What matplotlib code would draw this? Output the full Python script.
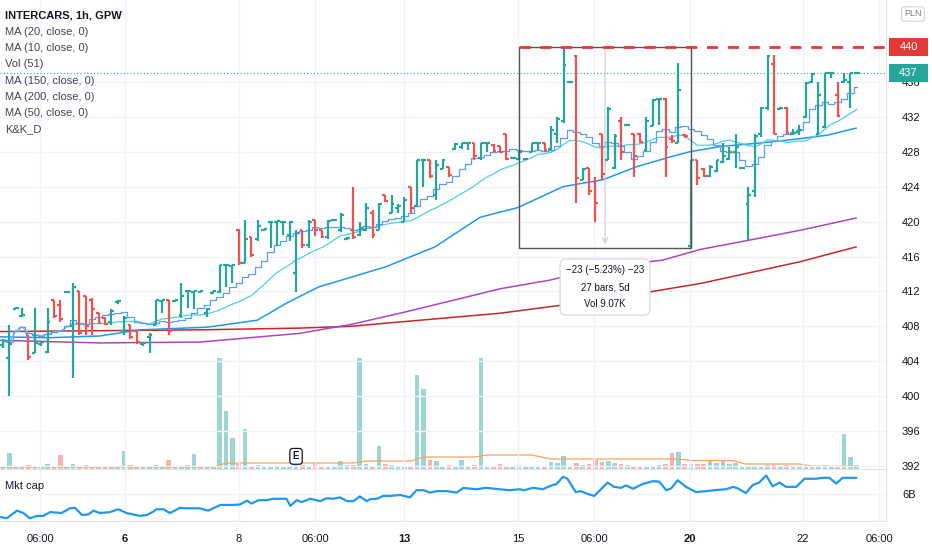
import numpy as np
import pandas as pd
import matplotlib.pyplot as plt
import matplotlib.transforms as mtransforms
from matplotlib.collections import LineCollection
from matplotlib.patches import Rectangle

plt.rcParams['font.family'] = ['Liberation Sans', 'DejaVu Sans']

UP = '#26a69a'
DOWN = '#ef5350'
GRID = '#f0f3fa'
TEXT = '#131722'

# hourly OHLC, INTERCARS (GPW)
opens = [405.9, 404.4, 410.0, 409.2, 407.0, 405.0, 406.0, 405.1, 411.0, 410.5,
         411.9, 408.0, 412.0, 411.5, 411.0, 409.5, 409.0, 408.5, 410.8, 407.5,
         408.2, 407.5, 406.0, 406.8, 408.2, 410.9, 411.0, 410.9, 409.3, 412.0,
         411.9, 411.9, 409.5, 411.8, 411.9, 415.0, 414.9, 419.0, 415.3, 418.2,
         418.0, 419.0, 420.0, 420.0, 419.9, 418.5, 414.1, 419.0, 417.3, 420.2,
         419.0, 418.2, 420.2, 419.0, 418.0, 419.0, 418.5, 419.0, 421.0, 419.0,
         423.0, 421.0, 421.5, 420.0, 424.0, 421.8, 427.0, 427.0, 423.0, 426.0,
         426.2, 428.3, 428.5, 429.0, 429.0, 427.3, 429.0, 428.8, 428.6, 430.0,
         427.3, 427.2, 427.2, 428.0, 429.0, 429.0, 428.3, 430.0, 431.5, 436.0,
         439.0, 424.8, 426.1, 424.5, 430.0, 427.0, 426.1, 431.5, 431.1, 430.0,
         430.0, 428.2, 431.0, 434.0, 434.0, 429.5, 429.0, 429.9, 417.2, 427.0,
         426.0, 425.2, 425.8, 426.8, 427.2, 428.0, 426.1, 422.0, 423.5, 430.0,
         433.0, 438.0, 432.9, 433.0, 430.0, 430.3, 432.0, 436.0, 430.0, 430.8,
         437.0, 434.5, 436.0, 436.0, 437.0]
highs = [406.6, 408.2, 410.2, 410.1, 407.0, 410.1, 406.3, 410.1, 411.0, 411.0,
         412.0, 413.0, 412.0, 411.5, 411.2, 409.5, 409.1, 410.0, 411.0, 409.2,
         408.2, 407.6, 406.2, 407.2, 411.0, 411.0, 411.0, 411.0, 413.0, 412.0,
         412.0, 412.0, 410.1, 412.0, 415.0, 415.0, 415.0, 419.2, 420.2, 418.2,
         420.2, 419.2, 420.1, 420.1, 420.1, 420.1, 419.0, 419.0, 420.2, 420.2,
         419.0, 420.2, 420.3, 421.0, 418.2, 424.0, 420.0, 422.1, 421.3, 422.1,
         423.0, 423.0, 422.0, 422.8, 424.0, 427.1, 427.1, 427.1, 427.1, 427.2,
         426.3, 429.0, 429.0, 429.0, 429.0, 429.0, 429.1, 428.9, 428.7, 430.0,
         427.4, 428.2, 427.3, 429.0, 429.1, 429.0, 431.0, 432.0, 440.0, 436.1,
         439.1, 426.1, 426.1, 425.1, 430.0, 433.1, 430.0, 432.0, 431.2, 430.0,
         430.1, 432.0, 434.0, 434.0, 434.2, 429.9, 438.2, 430.0, 427.1, 427.1,
         426.1, 426.5, 427.1, 429.0, 428.5, 430.0, 426.2, 424.0, 430.0, 433.1,
         439.1, 439.1, 433.1, 433.1, 430.6, 431.1, 436.0, 437.0, 436.0, 437.0,
         437.0, 436.0, 437.0, 437.0, 437.1]
lows = [405.5, 400.0, 410.0, 409.1, 404.1, 405.0, 405.8, 405.0, 409.0, 408.5,
        411.8, 402.1, 407.0, 407.0, 407.0, 408.3, 408.2, 408.2, 410.6, 407.0,
        406.5, 406.0, 405.8, 405.0, 408.2, 409.5, 407.0, 410.8, 409.0, 410.1,
        410.0, 411.8, 409.1, 411.7, 411.8, 412.5, 413.0, 415.0, 415.2, 416.0,
        417.8, 418.9, 417.0, 417.2, 418.5, 417.8, 411.9, 417.0, 417.0, 418.3,
        418.1, 418.0, 420.1, 418.8, 417.9, 418.0, 418.3, 418.9, 418.1, 419.0,
        422.2, 421.0, 421.0, 420.0, 421.0, 421.7, 424.0, 425.0, 422.5, 426.0,
        425.1, 428.2, 428.3, 428.2, 427.1, 427.1, 428.0, 428.0, 427.9, 427.1,
        427.2, 427.1, 427.0, 428.0, 428.2, 428.0, 428.2, 429.0, 431.3, 435.9,
        422.1, 424.8, 423.0, 420.0, 424.8, 427.0, 426.0, 427.1, 431.0, 425.1,
        429.0, 428.0, 431.0, 431.1, 425.1, 429.0, 429.0, 429.6, 417.0, 424.2,
        425.1, 425.1, 425.7, 426.7, 427.1, 426.1, 426.0, 417.9, 422.8, 429.7,
        432.8, 430.0, 432.8, 430.0, 429.9, 429.9, 431.9, 435.9, 429.9, 430.7,
        436.5, 432.0, 435.9, 433.0, 436.9]
closes = [406.3, 406.0, 410.1, 409.3, 404.5, 406.1, 406.2, 408.5, 409.2, 408.8,
          411.9, 412.5, 407.2, 408.0, 410.0, 408.4, 408.3, 409.8, 410.9, 409.0,
          406.8, 406.2, 406.1, 407.0, 411.0, 411.0, 407.5, 411.0, 411.5, 412.0,
          412.0, 412.0, 410.0, 412.0, 415.0, 415.0, 415.0, 415.2, 418.0, 416.2,
          419.5, 419.1, 420.0, 420.1, 420.0, 420.0, 418.7, 417.3, 420.0, 419.0,
          418.2, 420.1, 420.2, 420.8, 418.1, 418.2, 419.3, 421.5, 418.5, 422.0,
          422.3, 422.0, 421.8, 422.5, 421.5, 427.0, 427.0, 425.2, 426.5, 427.0,
          425.3, 428.9, 429.0, 429.0, 427.5, 429.0, 429.0, 428.1, 428.0, 427.2,
          427.3, 428.0, 427.2, 429.0, 429.0, 428.2, 430.5, 431.8, 437.9, 436.0,
          425.0, 426.0, 423.5, 422.1, 425.5, 432.9, 429.8, 428.0, 431.1, 427.5,
          429.1, 431.5, 433.9, 434.0, 428.5, 429.2, 435.1, 429.8, 427.1, 425.0,
          425.2, 426.3, 427.0, 427.5, 428.0, 428.5, 426.1, 423.0, 429.8, 433.0,
          439.0, 430.0, 433.0, 430.1, 430.2, 430.5, 435.9, 436.9, 434.5, 437.0,
          437.0, 432.1, 436.2, 437.0, 437.0]
# volume, thousands of shares
volume = [0.2, 1.6, 0.3, 0.3, 0.4, 0.3, 0.2, 0.5, 0.3, 1.4,
          0.2, 0.5, 0.3, 0.4, 0.3, 0.2, 0.3, 0.2, 0.2, 1.8,
          0.4, 0.3, 0.2, 0.3, 0.4, 0.3, 0.9, 0.2, 0.3, 0.4,
          1.5, 0.2, 0.3, 0.2, 11.1, 5.8, 3.1, 0.5, 4.0, 0.3,
          0.4, 0.3, 0.3, 0.3, 0.2, 0.3, 0.5, 0.4, 0.3, 0.7,
          0.3, 0.2, 0.3, 0.8, 0.4, 0.4, 11.1, 0.5, 0.3, 2.3,
          0.5, 0.4, 0.3, 0.3, 0.3, 9.4, 8.0, 0.9, 0.8, 0.3,
          0.4, 0.3, 0.9, 0.3, 0.4, 11.1, 0.3, 0.3, 0.5, 0.3,
          0.2, 0.4, 0.2, 0.2, 0.2, 0.2, 0.7, 0.6, 1.3, 0.3,
          0.6, 0.4, 0.5, 0.9, 0.7, 0.8, 0.6, 0.5, 0.4, 0.3,
          0.2, 0.2, 0.3, 0.4, 0.5, 1.6, 1.7, 0.5, 0.5, 0.5,
          0.5, 0.8, 0.6, 0.8, 0.5, 0.6, 0.3, 0.2, 0.3, 0.3,
          0.4, 0.4, 0.3, 0.4, 0.2, 0.3, 0.3, 0.2, 0.3, 0.4,
          0.2, 0.3, 3.5, 1.2, 0.4]

# longer averages (bar index, price)
ma50_t = [-0.5, 7.4, 15.2, 21.5, 32.0, 39.9, 44.6, 49.5, 60.0, 67.8, 74.9, 80.8,
          87.9, 94.2, 99.5, 104.7, 107.8, 112.6, 118.8, 124.0, 129.4, 133.9]
ma50_v = [406.8, 406.7, 406.9, 407.6, 407.9, 408.7, 410.7, 412.5, 414.8, 417.1, 420.5,
          421.6, 424.0, 424.8, 426.3, 427.4, 428.0, 428.6, 429.0, 429.4, 429.9, 430.7]
ma150_t = [-0.5, 15.2, 30.9, 46.6, 54.5, 62.3, 70.2, 78.0, 85.9, 93.7, 103.6,
           109.4, 117.3, 125.1, 133.9]
ma150_v = [406.4, 406.1, 406.2, 407.2, 408.2, 409.5, 410.9, 412.3, 413.3, 414.7,
           415.6, 416.8, 417.9, 419.0, 420.4]
ma200_t = [-0.5, 15.2, 30.9, 46.6, 54.5, 62.3, 78.0, 93.7, 109.4, 125.1, 133.9]
ma200_v = [407.4, 407.5, 407.6, 407.8, 408.0, 408.5, 409.5, 411.0, 412.9, 415.4, 417.1]
volma_t = [-0.5, 33, 35, 55, 57, 64, 66, 74, 76, 83, 86, 106, 108, 114.6, 116.5, 125, 127, 134]
volma_v = [0.2, 0.2, 0.6, 0.6, 0.8, 0.8, 1.2, 1.2, 1.4, 1.4, 1.0, 1.0, 0.85, 0.85,
           0.5, 0.5, 0.27, 0.27]

# market cap, billions PLN
mcap_t = [-0.5, 0.6, 2.2, 3.2, 4.2, 5.3, 6.3, 7.4, 9.2, 10.5, 11.3, 12.4, 13.4, 14.2,
          15.2, 16.8, 18.1, 19.4, 21.5, 22.6, 23.6, 24.1, 25.2, 26.2, 27.8, 28.8,
          30.9, 32.2, 34.1, 36.2, 37.2, 38.3, 39.0, 40.1, 41.4, 42.4, 44.5, 45.1,
          46.1, 46.9, 48.2, 49.8, 50.8, 51.9, 52.9, 54.0, 55.0, 56.0, 57.1, 57.6,
          58.7, 59.7, 60.8, 62.3, 63.9, 64.9, 66.0, 67.0, 68.1, 69.7, 71.2, 72.3,
          72.7, 74.3, 75.8, 77.9, 79.5, 81.1, 81.8, 83.2, 84.7, 86.3, 86.8, 87.9,
          88.6, 89.9, 90.7, 91.8, 92.8, 94.9, 95.9, 97.0, 97.8, 98.9, 100.4, 102.0,
          103.0, 104.1, 104.9, 105.9, 107.2, 108.8, 110.4, 111.7, 113.5, 114.6,
          115.3, 116.6, 117.7, 118.7, 119.8, 120.8, 121.9, 122.9, 124.5, 125.8,
          127.6, 128.7, 129.7, 130.8, 131.8, 133.9]
mcap_v = [5.76, 5.745, 5.825, 5.80, 5.745, 5.77, 5.77, 5.81, 5.80, 5.85, 5.855, 5.78,
          5.785, 5.825, 5.80, 5.81, 5.84, 5.80, 5.77, 5.78, 5.815, 5.84, 5.84, 5.80,
          5.855, 5.85, 5.85, 5.825, 5.885, 5.885, 5.89, 5.93, 5.90, 5.935, 5.935,
          5.95, 5.95, 5.875, 5.935, 5.915, 5.95, 5.925, 5.955, 5.95, 5.965, 5.925,
          5.925, 5.975, 5.925, 5.945, 5.95, 5.98, 5.98, 5.99, 5.965, 6.04, 6.04,
          6.015, 6.03, 6.03, 6.015, 6.065, 6.06, 6.05, 6.065, 6.05, 6.04, 6.05, 6.04,
          6.065, 6.05, 6.095, 6.10, 6.18, 6.16, 6.02, 6.03, 6.00, 5.98, 6.12, 6.075,
          6.065, 6.09, 6.055, 6.105, 6.135, 6.13, 6.04, 6.06, 6.145, 6.075, 6.02,
          6.03, 6.04, 6.05, 6.075, 6.06, 6.01, 6.095, 6.12, 6.195, 6.08, 6.12, 6.075,
          6.075, 6.16, 6.16, 6.17, 6.17, 6.11, 6.17, 6.17]

xtick_pos = [5.8, 19.15, 37.05, 49.0, 62.95, 80.85, 92.8, 107.85, 125.6, 137.5]
xtick_labels = ['06:00', '6', '8', '06:00', '13', '15', '06:00', '20', '22', '06:00']
bold_labels = ['6', '13', '20']
price_ticks = [392, 396, 400, 404, 408, 412, 416, 420, 424, 428, 432, 436]

# price range measure: from the 440 high down to 417
measure_start, measure_end = 81, 108
measure_top, measure_bottom = 440, 417
last_price = 437

W, H = 932, 550
fig = plt.figure(figsize=(W / 100, H / 100), dpi=100)
ax = fig.add_axes([0, 1 - 469 / H, 886 / W, 469 / H])
vax = ax.twinx()
cax = fig.add_axes([0, 1 - 521 / H, 886 / W, 52 / H], sharex=ax)

idx = np.arange(len(closes))
up = np.array(closes) >= np.array(opens)
bar_colors = [UP if u else DOWN for u in up]

# volume underlay
vax.bar(idx, volume, width=0.72, color=bar_colors, alpha=0.45, linewidth=0)
vax.plot(volma_t, volma_v, color='#f7a35c', lw=0.9)
vax.set_ylim(0, 46.9)
vax.set_axis_off()
ax.set_zorder(vax.get_zorder() + 1)
ax.patch.set_visible(False)

# moving averages
ma10 = pd.Series(closes).rolling(10, min_periods=1).mean()
ma20 = pd.Series(closes).rolling(20, min_periods=1).mean()
ax.plot(ma200_t, ma200_v, color='#c62828', lw=1.1)
ax.plot(ma150_t, ma150_v, color='#ab47bc', lw=1.1)
ax.plot(ma50_t, ma50_v, color='#2196f3', lw=1.1)
ax.plot(idx, ma20, color='#4dd0e1', lw=0.9)
ax.plot(idx, ma10, color='#5b9cf6', lw=0.9, drawstyle='steps-mid')

# OHLC bars
segs, cols = [], []
for i, (o, h, l, c) in enumerate(zip(opens, highs, lows, closes)):
    segs += [[(i, l), (i, h)], [(i - 0.45, o), (i, o)], [(i, c), (i + 0.45, c)]]
    cols += [bar_colors[i]] * 3
ax.add_collection(LineCollection(segs, colors=cols, linewidths=1.6, capstyle='butt', zorder=3))

ax.axhline(last_price, color=UP, lw=0.8, ls=(0, (1, 2)), zorder=2)

# measure box and 440 level
ax.add_patch(Rectangle((measure_start, measure_bottom), measure_end - measure_start,
                       measure_top - measure_bottom, fill=False, ec='#555555', lw=1, zorder=4))
ax.plot([measure_start, 138.6], [measure_top, measure_top], color='#e53935', lw=2,
        ls=(0, (4, 3.5)), zorder=4)
mid = (measure_start + measure_end) / 2
ax.annotate('', xy=(mid, measure_bottom + 0.1), xytext=(mid, measure_top),
            arrowprops=dict(arrowstyle='->', color='#c8cad0', lw=0.8), zorder=2)
ax.text(mid, 412.5, '\u221223 (\u22125.23%) \u221223\n27 bars, 5d\nVol 9.07K',
        ha='center', va='center', fontsize=7, color=TEXT, linespacing=1.9, zorder=5,
        bbox=dict(boxstyle='round,pad=0.6', fc='white', ec='#d1d4dc', lw=0.8))

ax.set_xlim(-0.47, 138.6)
ax.set_ylim(391.66, 445.38)
ax.set_xticks(xtick_pos)
ax.set_yticks(price_ticks)
ax.grid(True, color=GRID, lw=1)
ax.tick_params(axis='x', length=0, labelbottom=False)
ax.tick_params(axis='y', left=False, right=False, labelleft=False, labelright=True,
               pad=8, labelsize=8, labelcolor=TEXT)
for s in ['top', 'left']:
    ax.spines[s].set_visible(False)
ax.spines['right'].set_color('#e0e3eb')
ax.spines['bottom'].set_color('#e0e3eb')

# price labels on the scale
blend = mtransforms.blended_transform_factory(ax.transAxes, ax.transData)
for price, col in [(measure_top, '#e53935'), (last_price, UP)]:
    ax.add_patch(Rectangle((889 / 886, price - 1.05), 39 / 886, 2.1, transform=blend,
                           fc=col, ec='none', clip_on=False, zorder=6))
    ax.text(908.5 / 886, price, str(price), transform=blend, ha='center', va='center',
            fontsize=8, color='white', zorder=7, clip_on=False)

# earnings marker
ebl = mtransforms.blended_transform_factory(ax.transData, ax.transAxes)
ax.text(46.0, 0.027, 'E', transform=ebl, ha='center', va='center', fontsize=7,
        fontweight='bold', color=TEXT,
        bbox=dict(boxstyle='round,pad=0.3', fc='white', ec=TEXT, lw=0.9))

# market cap pane
cax.plot(mcap_t, mcap_v, color='#2196f3', lw=1.6)
cax.set_ylim(5.7165, 6.2625)
cax.set_yticks([6.0])
cax.set_yticklabels(['6B'])
cax.set_xticks(xtick_pos)
cax.set_xticklabels(xtick_labels)
for lab in cax.get_xticklabels():
    if lab.get_text() in bold_labels:
        lab.set_fontweight('bold')
cax.grid(True, color=GRID, lw=1)
cax.tick_params(axis='x', length=0, pad=9, labelsize=8, labelcolor=TEXT)
cax.tick_params(axis='y', left=False, right=False, labelleft=False, labelright=True,
                pad=8, labelsize=8, labelcolor=TEXT)
for s in ['top', 'left']:
    cax.spines[s].set_visible(False)
cax.spines['right'].set_color('#e0e3eb')
cax.spines['bottom'].set_color('#e0e3eb')
cax.text(5 / 886, 0.67, 'Mkt cap', transform=cax.transAxes, fontsize=8, color=TEXT,
         va='center')

# legend block
legend_lines = ['MA (20, close, 0)', 'MA (10, close, 0)', 'Vol (51)', 'MA (150, close, 0)',
                'MA (200, close, 0)', 'MA (50, close, 0)', 'K&K_D']
fig.text(5 / W, 1 - 15.7 / H, 'INTERCARS, 1h, GPW', fontsize=8, fontweight='bold',
         color=TEXT, va='center')
for k, line in enumerate(legend_lines):
    fig.text(5 / W, 1 - (32.2 + 16.1 * k) / H, line, fontsize=8, color='#434651',
             va='center')

fig.text(913 / W, 1 - 14 / H, 'PLN', fontsize=6.5, color='#787b86', ha='center',
         va='center', bbox=dict(boxstyle='round,pad=0.3', fc='white', ec='#d1d4dc', lw=0.8))

fig.savefig('out.png', dpi=100)
